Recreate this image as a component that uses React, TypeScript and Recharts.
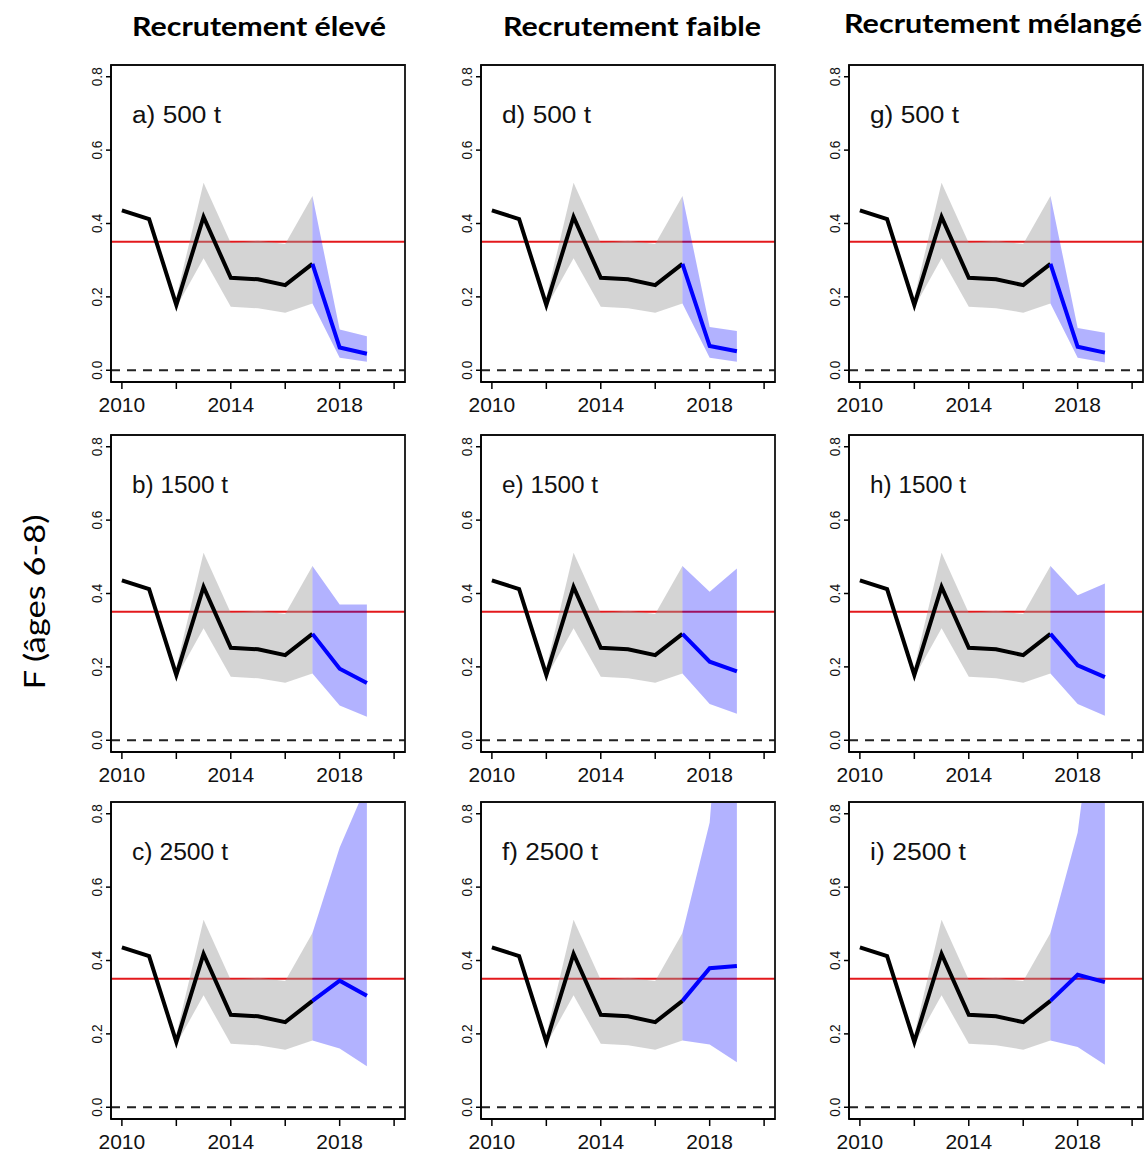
import React from 'react';
import {
  ComposedChart,
  Line,
  Area,
  XAxis,
  YAxis,
  ReferenceLine,
  ReferenceArea,
} from 'recharts';

// ---------- DATA ----------
const colTitles = ['Recrutement élevé', 'Recrutement faible', 'Recrutement mélangé'];
const yAxisTitle = 'F (âges 6-8)';

// panels in column-major order: a,b,c | d,e,f | g,h,i
const panelLabels = [
  'a) 500 t', 'b) 1500 t', 'c) 2500 t',
  'd) 500 t', 'e) 1500 t', 'f) 2500 t',
  'g) 500 t', 'h) 1500 t', 'i) 2500 t',
];

const histYears = [2010, 2011, 2012, 2013, 2014, 2015, 2016, 2017];
const histF = [0.436, 0.412, 0.178, 0.418, 0.252, 0.248, 0.232, 0.290];

const bandYears = [2012, 2013, 2014, 2015, 2016, 2017];
const bandLo = [0.172, 0.305, 0.173, 0.169, 0.157, 0.182];
const bandHi = [0.198, 0.511, 0.347, 0.353, 0.344, 0.475];

const projYears = [2017, 2018, 2019];
const projMid = [
  [0.290, 0.062, 0.045],
  [0.290, 0.195, 0.156],
  [0.290, 0.345, 0.304],
  [0.290, 0.066, 0.052],
  [0.290, 0.214, 0.188],
  [0.290, 0.379, 0.385],
  [0.290, 0.064, 0.048],
  [0.290, 0.204, 0.172],
  [0.290, 0.361, 0.341],
];
const projLo = [
  [0.182, 0.034, 0.023],
  [0.182, 0.095, 0.064],
  [0.182, 0.160, 0.112],
  [0.182, 0.034, 0.023],
  [0.182, 0.099, 0.072],
  [0.182, 0.171, 0.123],
  [0.182, 0.034, 0.021],
  [0.182, 0.099, 0.067],
  [0.182, 0.164, 0.116],
];
const projHi = [
  [0.475, 0.111, 0.093],
  [0.475, 0.370, 0.370],
  [0.475, 0.708, 0.880],
  [0.475, 0.118, 0.107],
  [0.475, 0.405, 0.468],
  [0.475, 0.776, 1.700],
  [0.475, 0.115, 0.102],
  [0.475, 0.395, 0.427],
  [0.475, 0.749, 1.320],
];

const refF = 0.35;

const xTicks = [2010, 2012, 2014, 2016, 2018, 2020];
const xTickLabels = ['2010', '', '2014', '', '2018', ''];
const yTicks = [0, 0.2, 0.4, 0.6, 0.8];
const yTickLabels = ['0.0', '0.2', '0.4', '0.6', '0.8'];

// ---------- LAYOUT ----------
const X_DOMAIN: [number, number] = [2009.6, 2020.4];
const Y_DOMAIN: [number, number] = [-0.032, 0.832];
const BOX_W = 294;
const BOX_H = 317;
const boxLefts = [111, 481, 849];
const boxTops = [65, 435, 802];
const Y_AXIS_W = 40;
const X_AXIS_H = 40;
const M_TOP = 5;
const M_RIGHT = 5;

function buildRows(p: number) {
  const years: number[] = [];
  [...histYears, ...projYears].forEach((y) => {
    if (!years.includes(y)) years.push(y);
  });
  years.sort((a, b) => a - b);
  return years.map((y) => {
    const hi = histYears.indexOf(y);
    const bi = bandYears.indexOf(y);
    const pi = projYears.indexOf(y);
    return {
      year: y,
      hist: hi >= 0 ? histF[hi] : null,
      band: bi >= 0 ? [bandLo[bi], bandHi[bi]] : null,
      proj: pi >= 0 ? projMid[p][pi] : null,
      pband: pi >= 0 ? [projLo[p][pi], projHi[p][pi]] : null,
    };
  });
}

const XTick = (props: any) => {
  const { x, y, payload } = props;
  const i = xTicks.indexOf(payload.value);
  const label = i >= 0 ? xTickLabels[i] : '';
  if (!label) return <g />;
  return (
    <text
      x={x}
      y={y + 23}
      textAnchor="middle"
      fontFamily="'Liberation Sans', Arial, sans-serif"
      fontSize={21}
      fill="#111"
    >
      {label}
    </text>
  );
};

const YTick = (props: any) => {
  const { x, y, payload } = props;
  const i = yTicks.findIndex((t) => Math.abs(t - payload.value) < 1e-9);
  const label = i >= 0 ? yTickLabels[i] : '';
  const cx = x - 4;
  return (
    <text
      x={cx}
      y={y}
      transform={`rotate(-90, ${cx}, ${y})`}
      textAnchor="middle"
      fontFamily="'Liberation Sans', Arial, sans-serif"
      fontSize={15}
      textLength={19}
      lengthAdjust="spacingAndGlyphs"
      fill="#111"
    >
      {label}
    </text>
  );
};

function Panel({ p }: { p: number }) {
  const col = Math.floor(p / 3);
  const row = p % 3;
  const rows = buildRows(p);
  return (
    <div
      style={{
        position: 'absolute',
        left: boxLefts[col] - Y_AXIS_W,
        top: boxTops[row] - M_TOP,
      }}
    >
      <ComposedChart
        width={Y_AXIS_W + BOX_W + M_RIGHT}
        height={M_TOP + BOX_H + X_AXIS_H}
        data={rows}
        margin={{ top: M_TOP, right: M_RIGHT, bottom: 0, left: 0 }}
      >
        <XAxis
          dataKey="year"
          type="number"
          domain={X_DOMAIN}
          ticks={xTicks}
          interval={0}
          allowDataOverflow
          height={X_AXIS_H}
          tickSize={7}
          tickMargin={0}
          axisLine={{ stroke: '#000', strokeWidth: 1.5 }}
          tickLine={{ stroke: '#000', strokeWidth: 1.5 }}
          tick={<XTick />}
        />
        <YAxis
          type="number"
          domain={Y_DOMAIN}
          ticks={yTicks}
          interval={0}
          allowDataOverflow
          width={Y_AXIS_W}
          tickSize={5}
          tickMargin={0}
          axisLine={{ stroke: '#000', strokeWidth: 1.5 }}
          tickLine={{ stroke: '#000', strokeWidth: 1.5 }}
          tick={<YTick />}
        />
        <ReferenceLine
          y={refF}
          stroke="#e3191c"
          strokeWidth={2}
          ifOverflow="hidden"
          {...({ zIndex: 50 } as any)}
        />
        <ReferenceLine
          y={0}
          stroke="#222"
          strokeWidth={2}
          strokeDasharray="9 7"
          ifOverflow="hidden"
          {...({ zIndex: 50 } as any)}
        />
        <Area
          dataKey="band"
          type="linear"
          fill="#999999"
          fillOpacity={0.42}
          stroke="none"
          dot={false}
          activeDot={false}
          connectNulls={false}
          isAnimationActive={false}
        />
        <Area
          dataKey="pband"
          type="linear"
          fill="#0000ff"
          fillOpacity={0.3}
          stroke="none"
          dot={false}
          activeDot={false}
          connectNulls={false}
          isAnimationActive={false}
        />
        <Line
          dataKey="hist"
          type="linear"
          stroke="#000"
          strokeWidth={4}
          dot={false}
          activeDot={false}
          connectNulls={false}
          isAnimationActive={false}
        />
        <Line
          dataKey="proj"
          type="linear"
          stroke="#0000ff"
          strokeWidth={4}
          dot={false}
          activeDot={false}
          connectNulls={false}
          isAnimationActive={false}
        />
        <ReferenceArea
          x1={X_DOMAIN[0]}
          x2={X_DOMAIN[1]}
          y1={Y_DOMAIN[0]}
          y2={Y_DOMAIN[1]}
          fill="none"
          fillOpacity={0}
          stroke="#111"
          strokeWidth={1.8}
          ifOverflow="visible"
        />
      </ComposedChart>
    </div>
  );
}

const titleCenters = [259, 632, 993];
const titleBaselines = [36, 36, 33];
const titleLengths = [254, 258, 298];

export default function App() {
  return (
    <div
      style={{
        position: 'absolute',
        left: 0,
        top: 0,
        width: 1148,
        height: 1154,
        background: '#fff',
        overflow: 'hidden',
      }}
    >
      {panelLabels.map((_, p) => (
        <Panel key={p} p={p} />
      ))}
      <svg
        width={1148}
        height={1154}
        style={{ position: 'absolute', left: 0, top: 0, pointerEvents: 'none' }}
      >
        {colTitles.map((t, i) => (
          <text
            key={t}
            x={titleCenters[i]}
            y={titleBaselines[i]}
            textAnchor="middle"
            fontFamily="Lato, 'Open Sans', sans-serif"
            fontWeight={700}
            fontSize={27}
            textLength={titleLengths[i]}
            lengthAdjust="spacingAndGlyphs"
            fill="#000"
          >
            {t}
          </text>
        ))}
        <text
          x={45}
          y={602}
          transform="rotate(-90, 45, 602)"
          textAnchor="middle"
          fontFamily="Lato, 'Open Sans', sans-serif"
          fontSize={28}
          textLength={175}
          lengthAdjust="spacingAndGlyphs"
          fill="#000"
        >
          {yAxisTitle}
        </text>
        {panelLabels.map((lab, p) => {
          const col = Math.floor(p / 3);
          const row = p % 3;
          return (
            <text
              key={lab}
              x={boxLefts[col] + 21}
              y={boxTops[row] + 58}
              fontFamily="'Liberation Sans', Arial, sans-serif"
              fontSize={23}
              textLength={lab.length > 8 ? 96 : 89}
              lengthAdjust="spacingAndGlyphs"
              fill="#111"
            >
              {lab}
            </text>
          );
        })}
      </svg>
    </div>
  );
}
